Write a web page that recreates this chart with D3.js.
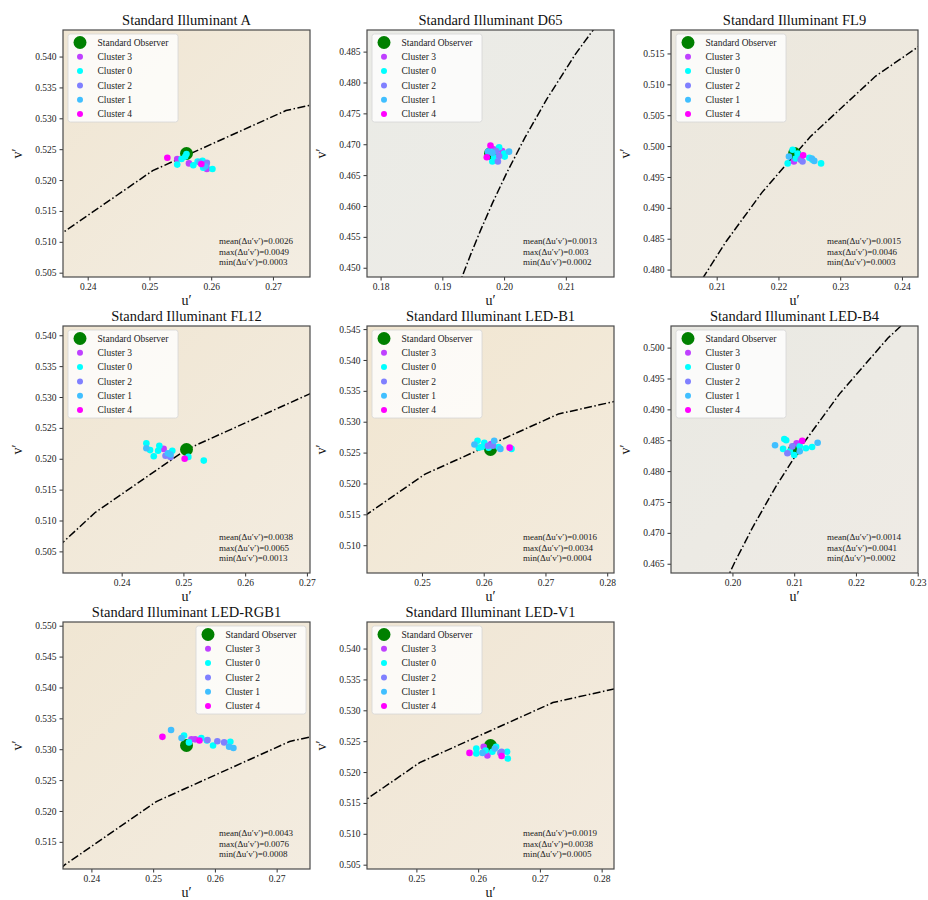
<!DOCTYPE html>
<html>
<head>
<meta charset="utf-8">
<script src="https://cdn.jsdelivr.net/npm/d3@7"></script>
<style>
  body { margin: 0; background: #fff; }
  text { font-family: "Liberation Serif", "DejaVu Serif", serif; }
</style>
</head>
<body>
<script>
// ---- data ----
const titles = [
  "Standard Illuminant A", "Standard Illuminant D65", "Standard Illuminant FL9",
  "Standard Illuminant FL12", "Standard Illuminant LED-B1", "Standard Illuminant LED-B4",
  "Standard Illuminant LED-RGB1", "Standard Illuminant LED-V1"
];

// standard observer chromaticity (u', v') per illuminant
const observers = [
  [0.2560, 0.5243], [0.1978, 0.4685], [0.2226, 0.4988], [0.2505, 0.5215],
  [0.2611, 0.5255], [0.21005, 0.4835], [0.2554, 0.5306], [0.2620, 0.5243]
];

const statMean = ["0.0026", "0.0013", "0.0015", "0.0038", "0.0016", "0.0014", "0.0043", "0.0019"];
const statMax  = ["0.0049", "0.003",  "0.0046", "0.0065", "0.0034", "0.0041", "0.0076", "0.0038"];
const statMin  = ["0.0003", "0.0002", "0.0003", "0.0013", "0.0004", "0.0002", "0.0008", "0.0005"];

// Planckian locus, 2000K .. 9000K in 500K steps (u', v')
const locus = [
  [0.30502, 0.53860], [0.27210, 0.53125], [0.25052, 0.52152], [0.23571, 0.51130],
  [0.22515, 0.50151], [0.21738, 0.49255], [0.21150, 0.48451], [0.20696, 0.47738],
  [0.20337, 0.47107], [0.20049, 0.46548], [0.19815, 0.46054], [0.19622, 0.45613],
  [0.19461, 0.45220], [0.19325, 0.44868], [0.19210, 0.44551]
];

const clusterOrder = [3, 0, 2, 1, 4];

// [u', v', cluster]
const ptsA = [
  [0.2529, 0.5236, 4], [0.2545, 0.5225, 0], [0.2545, 0.5234, 3], [0.2552, 0.5234, 0],
  [0.2558, 0.5238, 0], [0.2560, 0.5242, 0], [0.2564, 0.5227, 3], [0.2571, 0.5224, 0],
  [0.2578, 0.5230, 0], [0.2581, 0.5229, 1], [0.2584, 0.5226, 4], [0.2586, 0.5231, 0],
  [0.2593, 0.5228, 2], [0.2592, 0.5223, 2], [0.2587, 0.5220, 0], [0.2602, 0.5218, 0],
  [0.2593, 0.5218, 3], [0.2590, 0.5222, 1]
];
const ptsD65 = [
  [0.1978, 0.4698, 4], [0.1972, 0.4679, 4], [0.1981, 0.4672, 0], [0.1977, 0.4689, 0],
  [0.1974, 0.4688, 1], [0.1987, 0.4689, 2], [0.1992, 0.4695, 0], [0.1984, 0.4679, 0],
  [0.1992, 0.4681, 2], [0.1990, 0.4672, 2], [0.1997, 0.4689, 3], [0.2000, 0.4685, 0],
  [0.2008, 0.4688, 1], [0.2001, 0.4680, 0], [0.1981, 0.4686, 1], [0.1983, 0.4692, 3]
];
const ptsFL9 = [
  [0.2223, 0.4994, 0], [0.2231, 0.4988, 0], [0.2217, 0.4983, 1], [0.2215, 0.4972, 0],
  [0.2225, 0.4975, 3], [0.2239, 0.4975, 2], [0.2240, 0.4985, 4], [0.2234, 0.4983, 3],
  [0.2228, 0.4980, 0], [0.2250, 0.4981, 0], [0.2254, 0.4980, 1], [0.2255, 0.4978, 0],
  [0.2258, 0.4976, 1], [0.2269, 0.4972, 0], [0.2236, 0.4978, 2]
];
const ptsFL12 = [
  [0.2440, 0.5225, 0], [0.2440, 0.5217, 1], [0.2446, 0.5214, 0], [0.2452, 0.5204, 0],
  [0.2461, 0.5221, 0], [0.2459, 0.5213, 0], [0.2468, 0.5216, 3], [0.2471, 0.5205, 2],
  [0.2475, 0.5209, 1], [0.2479, 0.5203, 2], [0.2482, 0.5213, 0], [0.2479, 0.5207, 1],
  [0.2508, 0.5203, 0], [0.2502, 0.5200, 4], [0.2533, 0.5197, 0]
];
const ptsB1 = [
  [0.2585, 0.5263, 1], [0.2590, 0.5269, 0], [0.2592, 0.5258, 0], [0.2601, 0.5266, 0],
  [0.2597, 0.5259, 0], [0.2608, 0.5258, 0], [0.2615, 0.5261, 2], [0.2612, 0.5264, 3],
  [0.2617, 0.5269, 1], [0.2624, 0.5259, 0], [0.2627, 0.5256, 1], [0.2642, 0.5258, 4],
  [0.2645, 0.5256, 0], [0.2607, 0.5261, 2]
];
const ptsB4 = [
  [0.2069, 0.4842, 1], [0.2084, 0.4852, 0], [0.2087, 0.4850, 0], [0.2082, 0.4836, 0],
  [0.2089, 0.4829, 2], [0.2093, 0.4832, 0], [0.2097, 0.4840, 2], [0.2104, 0.4845, 3],
  [0.2113, 0.4849, 4], [0.2100, 0.4826, 0], [0.2109, 0.4832, 1], [0.2119, 0.4837, 0],
  [0.2129, 0.4839, 0], [0.2138, 0.4846, 1], [0.2109, 0.4840, 0]
];
const ptsRGB1 = [
  [0.2515, 0.5320, 4], [0.2529, 0.5331, 1], [0.2546, 0.5318, 1], [0.2550, 0.5322, 0],
  [0.2558, 0.5311, 0], [0.2568, 0.5316, 3], [0.2575, 0.5314, 4], [0.2578, 0.5318, 0],
  [0.2587, 0.5314, 0], [0.2588, 0.5315, 2], [0.2597, 0.5306, 0], [0.2604, 0.5313, 2],
  [0.2615, 0.5311, 2], [0.2625, 0.5312, 0], [0.2623, 0.5304, 1], [0.2630, 0.5302, 1],
  [0.2562, 0.5316, 3]
];
const ptsV1 = [
  [0.2586, 0.5231, 4], [0.2597, 0.5238, 0], [0.2597, 0.5230, 0], [0.2609, 0.5241, 3],
  [0.2607, 0.5231, 1], [0.2612, 0.5235, 0], [0.2615, 0.5227, 3], [0.2623, 0.5233, 0],
  [0.2629, 0.5241, 0], [0.2627, 0.5238, 1], [0.2638, 0.5226, 4], [0.2638, 0.5233, 2],
  [0.2647, 0.5233, 0], [0.2648, 0.5222, 0], [0.2636, 0.5231, 2]
];
const points = [ptsA, ptsD65, ptsFL9, ptsFL12, ptsB1, ptsB4, ptsRGB1, ptsV1];

// ---- styling ----
const clusterColor = { 0: "#00ffff", 1: "#40bfff", 2: "#8080ff", 3: "#bf40ff", 4: "#ff00ff" };
const bgStart = ["#f0e6d3", "#eaebe6", "#ebe8df", "#f0e6d3", "#f1e6d1", "#e9e9e3", "#f0e6d3", "#f0e6d4"];
const bgEnd   = ["#f3ede2", "#eeece7", "#f0e9dd", "#f3ece0", "#f3ebdd", "#efebe5", "#f3ece0", "#f3ebdf"];

const size = 247;
const colX = [63, 367, 671];
const rowY = [30, 326, 622];

const svg = d3.select("body").append("svg")
  .attr("width", 928)
  .attr("height", 900);
const defs = svg.append("defs");

titles.forEach(function(title, i) {
  const left = colX[i % 3];
  const top = rowY[Math.floor(i / 3)];
  const [cu, cv] = observers[i];

  const x = d3.scaleLinear().domain([cu - 0.02, cu + 0.02]).range([0, size]);
  const y = d3.scaleLinear().domain([cv - 0.02, cv + 0.02]).range([size, 0]);

  const g = svg.append("g").attr("transform", `translate(${left}, ${top})`);

  // background
  const grad = defs.append("linearGradient")
    .attr("id", "bg" + i)
    .attr("x1", 0).attr("y1", 0).attr("x2", 1).attr("y2", 1);
  grad.append("stop").attr("offset", 0).attr("stop-color", bgStart[i]);
  grad.append("stop").attr("offset", 1).attr("stop-color", bgEnd[i]);

  defs.append("clipPath").attr("id", "clip" + i)
    .append("rect").attr("width", size).attr("height", size);

  g.append("rect")
    .attr("width", size)
    .attr("height", size)
    .attr("fill", `url(#bg${i})`);

  const plot = g.append("g").attr("clip-path", `url(#clip${i})`);

  // Planckian locus
  const line = d3.line().x(d => x(d[0])).y(d => y(d[1]));
  plot.append("path")
    .datum(locus)
    .attr("d", line)
    .attr("fill", "none")
    .attr("stroke", "#000")
    .attr("stroke-width", 1.5)
    .attr("stroke-dasharray", "8,2.5,1.5,2.5");

  // standard observer
  plot.append("circle")
    .attr("cx", x(cu))
    .attr("cy", y(cv))
    .attr("r", 6.5)
    .attr("fill", "#008000");

  // clusters
  clusterOrder.forEach(function(c) {
    plot.selectAll(null)
      .data(points[i].filter(d => d[2] === c))
      .enter()
      .append("circle")
      .attr("cx", d => x(d[0]))
      .attr("cy", d => y(d[1]))
      .attr("r", 3.3)
      .attr("fill", clusterColor[c]);
  });

  // axes
  const xAxis = g.append("g")
    .attr("transform", `translate(0, ${size})`)
    .call(d3.axisBottom(x).ticks(4).tickFormat(d3.format(".2f")).tickSize(3.5).tickPadding(2.5).tickSizeOuter(0));
  const yAxis = g.append("g")
    .call(d3.axisLeft(y).ticks(8).tickFormat(d3.format(".3f")).tickSize(3.5).tickPadding(3).tickSizeOuter(0));
  [xAxis, yAxis].forEach(function(a) {
    a.select(".domain").remove();
    a.selectAll("text").attr("font-size", "9.5px").attr("fill", "#222")
      .style("font-family", '"Liberation Serif", serif');
    a.selectAll("line").attr("stroke", "#333");
  });

  // frame
  g.append("rect")
    .attr("width", size)
    .attr("height", size)
    .attr("fill", "none")
    .attr("stroke", "#4a4a4a")
    .attr("stroke-width", 1.2);

  // title and axis labels
  g.append("text")
    .attr("x", size / 2)
    .attr("y", -5)
    .attr("text-anchor", "middle")
    .attr("font-size", "14.5px")
    .attr("fill", "#111")
    .text(title);

  g.append("text")
    .attr("x", size / 2)
    .attr("y", size + 27.5)
    .attr("text-anchor", "middle")
    .attr("font-size", "14px")
    .attr("fill", "#111")
    .text("u′");

  g.append("text")
    .attr("transform", `translate(-41, ${size / 2}) rotate(-90)`)
    .attr("text-anchor", "middle")
    .attr("font-size", "14px")
    .attr("fill", "#111")
    .text("v′");

  // stats
  const stats = g.append("text")
    .attr("font-size", "9px")
    .attr("fill", "#222");
  [["mean", statMean[i]], ["max", statMax[i]], ["min", statMin[i]]].forEach(function(s, k) {
    stats.append("tspan")
      .attr("x", 156)
      .attr("y", size - 33 + k * 10.5)
      .text(`${s[0]}(Δu′v′)=${s[1]}`);
  });

  // legend
  const legW = 110, legH = 88;
  const legX = i === 6 ? size - legW - 4 : 5;
  const leg = g.append("g").attr("transform", `translate(${legX}, 4)`);
  leg.append("rect")
    .attr("width", legW)
    .attr("height", legH)
    .attr("rx", 2.5)
    .attr("fill", "#fff")
    .attr("fill-opacity", 0.8)
    .attr("stroke", "#d6d6d6")
    .attr("stroke-width", 0.8);

  const legItems = [["Standard Observer", "#008000", 6.5]]
    .concat(clusterOrder.map(c => ["Cluster " + c, clusterColor[c], 3]));
  legItems.forEach(function(item, k) {
    const yy = 8.5 + k * 14.3;
    leg.append("circle")
      .attr("cx", 12)
      .attr("cy", yy)
      .attr("r", item[2])
      .attr("fill", item[1]);
    leg.append("text")
      .attr("x", 29.5)
      .attr("y", yy + 3.3)
      .attr("font-size", "9.5px")
      .attr("fill", "#222")
      .text(item[0]);
  });
});
</script>
</body>
</html>
